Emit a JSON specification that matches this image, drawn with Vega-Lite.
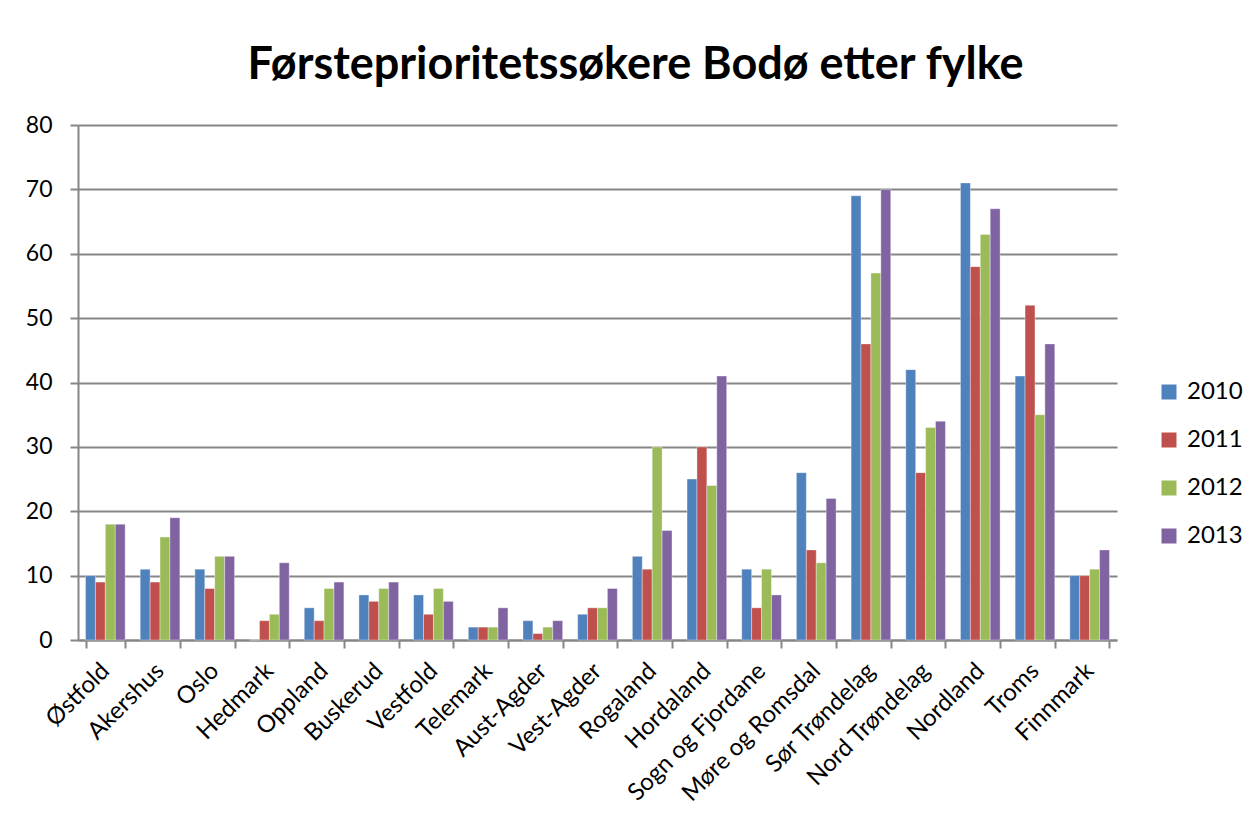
{
  "$schema": "https://vega.github.io/schema/vega-lite/v6.json",
  "autosize": {"type": "none"},
  "width": 1039,
  "height": 515,
  "padding": {"left": 78, "top": 125, "right": 136, "bottom": 187},
  "background": "white",
  "title": {
    "text": "Førsteprioritetssøkere Bodø etter fylke",
    "font": "Lato",
    "fontSize": 45,
    "fontWeight": "bold",
    "color": "black",
    "anchor": "middle",
    "baseline": "alphabetic",
    "offset": -10,
    "dx": 38
  },
  "data": {
    "values": [
      {"fylke": "Østfold", "year": "2010", "value": 10},
      {"fylke": "Østfold", "year": "2011", "value": 9},
      {"fylke": "Østfold", "year": "2012", "value": 18},
      {"fylke": "Østfold", "year": "2013", "value": 18},
      {"fylke": "Akershus", "year": "2010", "value": 11},
      {"fylke": "Akershus", "year": "2011", "value": 9},
      {"fylke": "Akershus", "year": "2012", "value": 16},
      {"fylke": "Akershus", "year": "2013", "value": 19},
      {"fylke": "Oslo", "year": "2010", "value": 11},
      {"fylke": "Oslo", "year": "2011", "value": 8},
      {"fylke": "Oslo", "year": "2012", "value": 13},
      {"fylke": "Oslo", "year": "2013", "value": 13},
      {"fylke": "Hedmark", "year": "2010", "value": 0},
      {"fylke": "Hedmark", "year": "2011", "value": 3},
      {"fylke": "Hedmark", "year": "2012", "value": 4},
      {"fylke": "Hedmark", "year": "2013", "value": 12},
      {"fylke": "Oppland", "year": "2010", "value": 5},
      {"fylke": "Oppland", "year": "2011", "value": 3},
      {"fylke": "Oppland", "year": "2012", "value": 8},
      {"fylke": "Oppland", "year": "2013", "value": 9},
      {"fylke": "Buskerud", "year": "2010", "value": 7},
      {"fylke": "Buskerud", "year": "2011", "value": 6},
      {"fylke": "Buskerud", "year": "2012", "value": 8},
      {"fylke": "Buskerud", "year": "2013", "value": 9},
      {"fylke": "Vestfold", "year": "2010", "value": 7},
      {"fylke": "Vestfold", "year": "2011", "value": 4},
      {"fylke": "Vestfold", "year": "2012", "value": 8},
      {"fylke": "Vestfold", "year": "2013", "value": 6},
      {"fylke": "Telemark", "year": "2010", "value": 2},
      {"fylke": "Telemark", "year": "2011", "value": 2},
      {"fylke": "Telemark", "year": "2012", "value": 2},
      {"fylke": "Telemark", "year": "2013", "value": 5},
      {"fylke": "Aust-Agder", "year": "2010", "value": 3},
      {"fylke": "Aust-Agder", "year": "2011", "value": 1},
      {"fylke": "Aust-Agder", "year": "2012", "value": 2},
      {"fylke": "Aust-Agder", "year": "2013", "value": 3},
      {"fylke": "Vest-Agder", "year": "2010", "value": 4},
      {"fylke": "Vest-Agder", "year": "2011", "value": 5},
      {"fylke": "Vest-Agder", "year": "2012", "value": 5},
      {"fylke": "Vest-Agder", "year": "2013", "value": 8},
      {"fylke": "Rogaland", "year": "2010", "value": 13},
      {"fylke": "Rogaland", "year": "2011", "value": 11},
      {"fylke": "Rogaland", "year": "2012", "value": 30},
      {"fylke": "Rogaland", "year": "2013", "value": 17},
      {"fylke": "Hordaland", "year": "2010", "value": 25},
      {"fylke": "Hordaland", "year": "2011", "value": 30},
      {"fylke": "Hordaland", "year": "2012", "value": 24},
      {"fylke": "Hordaland", "year": "2013", "value": 41},
      {"fylke": "Sogn og Fjordane", "year": "2010", "value": 11},
      {"fylke": "Sogn og Fjordane", "year": "2011", "value": 5},
      {"fylke": "Sogn og Fjordane", "year": "2012", "value": 11},
      {"fylke": "Sogn og Fjordane", "year": "2013", "value": 7},
      {"fylke": "Møre og Romsdal", "year": "2010", "value": 26},
      {"fylke": "Møre og Romsdal", "year": "2011", "value": 14},
      {"fylke": "Møre og Romsdal", "year": "2012", "value": 12},
      {"fylke": "Møre og Romsdal", "year": "2013", "value": 22},
      {"fylke": "Sør Trøndelag", "year": "2010", "value": 69},
      {"fylke": "Sør Trøndelag", "year": "2011", "value": 46},
      {"fylke": "Sør Trøndelag", "year": "2012", "value": 57},
      {"fylke": "Sør Trøndelag", "year": "2013", "value": 70},
      {"fylke": "Nord Trøndelag", "year": "2010", "value": 42},
      {"fylke": "Nord Trøndelag", "year": "2011", "value": 26},
      {"fylke": "Nord Trøndelag", "year": "2012", "value": 33},
      {"fylke": "Nord Trøndelag", "year": "2013", "value": 34},
      {"fylke": "Nordland", "year": "2010", "value": 71},
      {"fylke": "Nordland", "year": "2011", "value": 58},
      {"fylke": "Nordland", "year": "2012", "value": 63},
      {"fylke": "Nordland", "year": "2013", "value": 67},
      {"fylke": "Troms", "year": "2010", "value": 41},
      {"fylke": "Troms", "year": "2011", "value": 52},
      {"fylke": "Troms", "year": "2012", "value": 35},
      {"fylke": "Troms", "year": "2013", "value": 46},
      {"fylke": "Finnmark", "year": "2010", "value": 10},
      {"fylke": "Finnmark", "year": "2011", "value": 10},
      {"fylke": "Finnmark", "year": "2012", "value": 11},
      {"fylke": "Finnmark", "year": "2013", "value": 14}
    ]
  },
  "mark": {"type": "bar", "stroke": "white", "strokeWidth": 0.6, "strokeOpacity": 0.6},
  "encoding": {
    "x": {
      "field": "fylke",
      "type": "nominal",
      "sort": null,
      "title": null,
      "scale": {"paddingInner": 0.275, "paddingOuter": 0.1375},
      "axis": {
        "tickBand": "extent",
        "labelAngle": -45,
        "labelAlign": "right",
        "labelBaseline": "middle",
        "labelFont": "Lato",
        "labelFontSize": 24,
        "labelColor": "black",
        "labelPadding": 19,
        "tickSize": 8,
        "tickColor": "#868686",
        "tickWidth": 2,
        "domainColor": "#868686",
        "domainWidth": 2,
        "labelOverlap": false,
        "labelLimit": 400
      }
    },
    "xOffset": {"field": "year", "type": "nominal", "scale": {"paddingInner": 0, "paddingOuter": 0}},
    "y": {
      "field": "value",
      "type": "quantitative",
      "title": null,
      "scale": {"domain": [0, 80], "nice": false},
      "axis": {
        "values": [0, 10, 20, 30, 40, 50, 60, 70, 80],
        "labelFont": "Lato",
        "labelFontSize": 23,
        "labelColor": "black",
        "labelPadding": 18,
        "tickSize": 8,
        "tickColor": "#868686",
        "tickWidth": 2,
        "domainColor": "#868686",
        "domainWidth": 2,
        "grid": true,
        "gridColor": "#868686",
        "gridWidth": 2
      }
    },
    "color": {
      "field": "year",
      "type": "nominal",
      "title": null,
      "scale": {"domain": ["2010", "2011", "2012", "2013"], "range": ["#4F81BD", "#C0504D", "#9BBB59", "#8064A2"]},
      "legend": {
        "orient": "none",
        "legendX": 1079,
        "legendY": 255,
        "symbolType": "square",
        "symbolSize": 225,
        "symbolStrokeWidth": 0,
        "labelFont": "Lato",
        "labelFontSize": 24,
        "labelColor": "black",
        "labelOffset": 6,
        "rowPadding": 24
      }
    }
  },
  "config": {
    "view": {"stroke": null}
  }
}
